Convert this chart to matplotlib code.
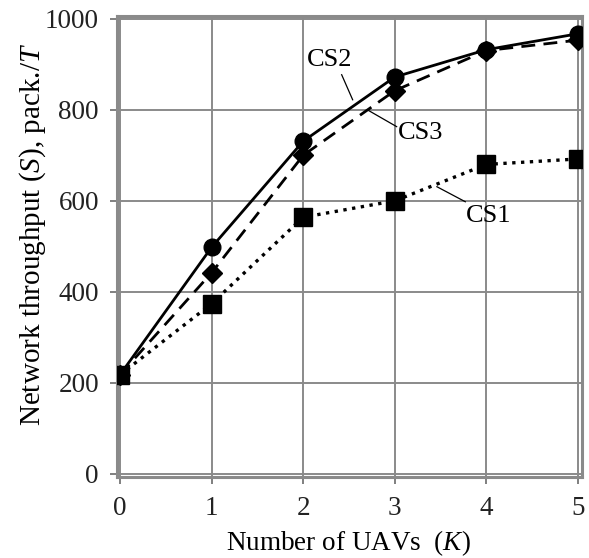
import matplotlib
matplotlib.use("Agg")
import matplotlib.pyplot as plt

plt.rcParams['font.family'] = ['Liberation Serif', 'DejaVu Serif']
plt.rcParams['mathtext.fontset'] = 'custom'
plt.rcParams['mathtext.rm'] = 'Liberation Serif'
plt.rcParams['mathtext.it'] = 'Liberation Serif:italic'

K = [0, 1, 2, 3, 4, 5]
cs1 = [218, 374, 564, 600, 680, 692]
cs2 = [218, 498, 731, 872, 932, 967]
cs3 = [218, 442, 700, 842, 930, 953]
xticks = [0, 1, 2, 3, 4, 5]
yticks = [0, 200, 400, 600, 800, 1000]

fig = plt.figure(figsize=(5.89, 5.58), dpi=100)
W, H = 589, 558
ax = fig.add_axes([117 / W, 1 - 477 / H, (582 - 117) / W, (477 - 16) / H])

ax.plot(K, cs2, '-', color='black', lw=2.0, marker='o', ms=12, zorder=4)
ax.plot(K, cs3, '--', color='black', lw=2.0, dashes=(5, 3), marker='D', ms=10, zorder=4)
ax.plot(K, cs1, ':', color='black', lw=2.4, marker='s', ms=12.5, zorder=5)

ax.set_xlim(-0.033, 5.044)
ax.set_ylim(-6.6, 1006)
ax.set_xticks(xticks)
ax.set_yticks(yticks)
ax.grid(True, color='#8a8a8a', lw=1.4)
ax.set_axisbelow(True)
for s in ax.spines.values():
    s.set_color('#8a8a8a')
    s.set_linewidth(2.2)
ax.tick_params(axis='both', colors='#6a6a6a', labelcolor='#222222', labelsize=19.5,
               length=5, width=1.2, direction='out')
ax.tick_params(axis='y', pad=8)
ax.tick_params(axis='x', pad=8.5)

ax.set_xlabel(r'Number of UAVs  ($\it{K}$)', fontsize=19.5)
ax.set_ylabel(r'Network throughput ($\it{S}$), pack./$\it{T}$', fontsize=21)
ax.yaxis.set_label_coords(-0.148, 0.527)
ax.xaxis.set_label_coords(0.497, -0.112)

# annotations
ax.plot([2.42, 2.54], [877, 822], color='black', lw=0.9, zorder=6)
ax.text(2.29, 910, 'CS2', fontsize=19, ha='center', va='center', zorder=7)
ax.plot([2.70, 3.02], [800, 763], color='black', lw=0.9, zorder=6)
ax.text(3.28, 749, 'CS3', fontsize=19, ha='center', va='center', zorder=7)
ax.plot([3.46, 3.77], [631, 598], color='black', lw=0.9, zorder=6)
ax.text(4.02, 567, 'CS1', fontsize=19, ha='center', va='center', zorder=7)

fig.savefig('out.png', dpi=100)
